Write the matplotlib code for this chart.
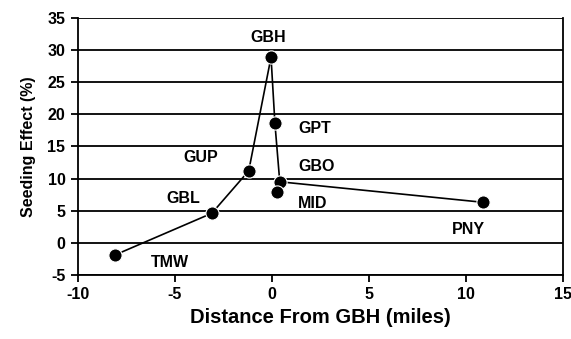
import matplotlib.pyplot as plt
import numpy as np

plt.rcParams['font.family'] = ['Liberation Sans', 'DejaVu Sans']
plt.rcParams['font.weight'] = 'bold'
plt.rcParams['axes.unicode_minus'] = False

# --- stations: distance from GBH (miles) vs seeding effect (%) ---
line_names = ['TMW', 'GBL', 'GUP', 'GBH', 'GPT', 'GBO', 'PNY']
line_dist = [-8.1, -3.1, -1.2, -0.05, 0.15, 0.4, 10.9]
line_effect = [-1.9, 4.6, 11.2, 28.9, 18.6, 9.5, 6.3]

# MID is plotted on its own, not joined to the line
mid_dist = [0.25]
mid_effect = [7.9]

x_ticks = [-10, -5, 0, 5, 10, 15]
y_ticks = [-5, 0, 5, 10, 15, 20, 25, 30, 35]

# label offsets in pixels
offsets = {'TMW': (55, -7), 'GBL': (-29, 15), 'GUP': (-48, 13), 'GBH': (-3, 20),
           'GPT': (40, -5), 'GBO': (37, 15), 'PNY': (-15, -27), 'MID': (36, -11)}

fig = plt.figure(figsize=(5.71, 3.39), dpi=100)
ax = fig.add_axes([0.1366, 0.189, 0.8494, 0.758])

for y in y_ticks:
    ax.axhline(y, color='black', lw=1.3, zorder=1)

ax.plot(line_dist, line_effect, color='black', lw=1.2, marker='o', ms=9.5,
        mec='white', mew=0.8, zorder=3)
ax.plot(mid_dist, mid_effect, ls='none', color='black', marker='o', ms=9.5,
        mec='white', mew=0.8, zorder=3)

names = line_names + ['MID']
xs = line_dist + mid_dist
ys = line_effect + mid_effect
for n, x, y in zip(names, xs, ys):
    ax.annotate(n, (x, y), xytext=offsets[n], textcoords='offset pixels',
                ha='center', va='center', fontsize=11.5, fontweight='bold')

ax.set_xlim(-10, 15)
ax.set_ylim(-5, 35)
ax.set_xticks(x_ticks)
ax.set_yticks(y_ticks)
ax.tick_params(direction='out', length=5, width=1.3, pad=4, labelsize=11.5)
for s in ax.spines.values():
    s.set_linewidth(1.3)
ax.spines['top'].set_visible(False)

ax.set_xlabel('Distance From GBH (miles)', fontsize=14.5, fontweight='bold', labelpad=4)
ax.set_ylabel('Seeding Effect (%)', fontsize=11.5, fontweight='bold', labelpad=8)

fig.canvas.draw()
for t in ax.xaxis.get_major_ticks() + ax.yaxis.get_major_ticks():
    t.label1.set_fontweight('bold')
    t.label1.set_family(['Liberation Sans', 'DejaVu Sans'])

fig.savefig('out.png', dpi=100)
